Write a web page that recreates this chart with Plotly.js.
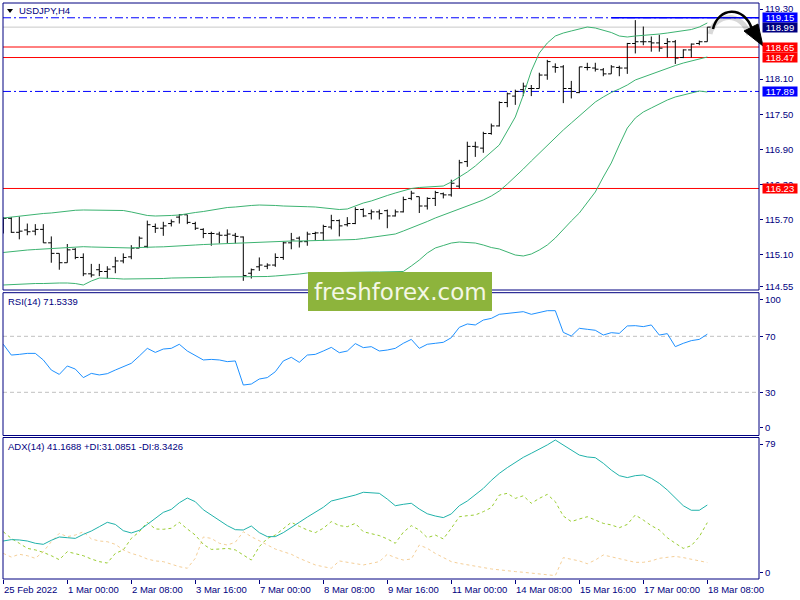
<!DOCTYPE html>
<html><head><meta charset="utf-8">
<script src="https://cdn.plot.ly/plotly-3.0.1.min.js"></script>
<style>html,body{margin:0;padding:0;background:#fff}#chart{width:800px;height:600px}</style>
</head><body><div id="chart"></div>
<script>
// ---------- DATA ----------
const symbolTitle = 'USDJPY,H4';
const tickLabels = ['25 Feb 2022','1 Mar 00:00','2 Mar 08:00','3 Mar 16:00','7 Mar 00:00','8 Mar 08:00','9 Mar 16:00','11 Mar 00:00','14 Mar 08:00','15 Mar 16:00','17 Mar 00:00','18 Mar 08:00'];
const tickBars = [0,8,16,24,32,40,48,56,64,72,80,88];

const open = [
115.62,115.72,115.48,115.52,115.50,115.53,115.30,115.12,114.96,115.19,
115.05,114.77,114.84,114.81,114.89,114.99,115.06,115.21,115.24,115.58,
115.55,115.63,115.74,115.78,115.63,115.53,115.46,115.45,115.43,115.43,
115.40,114.78,114.89,114.90,114.92,115.05,115.30,115.38,115.32,115.46,
115.47,115.57,115.68,115.61,115.63,115.87,115.80,115.83,115.85,115.76,
115.83,116.06,116.09,115.93,116.06,116.14,116.12,116.27,116.69,116.95,
116.92,117.17,117.30,117.70,117.81,117.92,117.94,117.94,118.17,118.31,
118.31,117.94,117.87,118.30,118.29,118.26,118.19,118.30,118.29,118.71,
118.74,118.74,118.72,118.71,118.74,118.47,118.60,118.71,118.74];
const high = [
115.74,115.74,115.75,115.63,115.62,115.62,115.41,115.12,115.28,115.21,
115.12,114.94,114.94,114.90,115.06,115.12,115.26,115.41,115.68,115.63,
115.66,115.70,115.79,115.78,115.66,115.55,115.49,115.49,115.53,115.47,
115.41,114.86,115.05,114.95,115.12,115.32,115.47,115.41,115.49,115.49,
115.61,115.78,115.70,115.74,115.91,115.89,115.87,115.87,115.87,115.87,
116.09,116.19,116.09,116.08,116.19,116.16,116.38,116.72,117.03,117.03,
117.20,117.34,117.72,117.87,117.92,118.04,118.00,118.21,118.43,118.37,
118.34,118.07,118.31,118.38,118.38,118.29,118.34,118.33,118.72,119.11,
119.00,118.83,118.86,118.80,118.77,118.61,118.71,118.76,118.99];
const low = [
115.46,115.47,115.36,115.43,115.43,115.30,114.96,114.84,114.96,115.02,
114.73,114.71,114.73,114.69,114.78,114.95,115.02,115.21,115.21,115.47,
115.42,115.58,115.63,115.62,115.52,115.38,115.25,115.29,115.29,115.29,
114.65,114.69,114.82,114.85,114.89,115.01,115.19,115.22,115.25,115.34,
115.34,115.53,115.41,115.58,115.62,115.74,115.70,115.70,115.55,115.75,
115.82,116.03,115.81,115.87,115.93,116.06,116.09,116.23,116.60,116.77,
116.84,117.15,117.29,117.62,117.66,117.81,117.81,117.94,118.09,118.21,
117.69,117.77,117.86,118.25,118.23,118.15,118.19,118.15,118.19,118.54,
118.68,118.57,118.57,118.47,118.36,118.46,118.47,118.68,118.74];
const close = [
115.72,115.48,115.50,115.49,115.53,115.30,115.12,114.96,115.18,115.05,
114.77,114.75,114.81,114.85,114.99,115.05,115.21,115.38,115.61,115.55,
115.59,115.66,115.78,115.65,115.55,115.46,115.46,115.43,115.45,115.41,
114.74,114.84,114.92,114.92,115.05,115.30,115.35,115.32,115.45,115.47,
115.58,115.68,115.59,115.63,115.87,115.76,115.83,115.80,115.76,115.83,
116.04,116.15,115.93,116.06,116.16,116.12,116.32,116.67,116.95,116.94,
117.17,117.30,117.70,117.85,117.89,117.98,117.94,118.17,118.40,118.30,
117.94,117.89,118.31,118.30,118.27,118.19,118.31,118.29,118.71,118.74,
118.74,118.72,118.63,118.74,118.46,118.60,118.70,118.74,118.99];

const bbUpper = [
115.725,115.742,115.759,115.768,115.785,115.802,115.811,115.828,115.845,115.857,
115.862,115.862,115.862,115.862,115.862,115.853,115.828,115.793,115.768,115.759,
115.759,115.768,115.776,115.802,115.819,115.836,115.862,115.879,115.904,115.913,
115.930,115.939,115.947,115.947,115.939,115.930,115.930,115.922,115.918,115.913,
115.896,115.879,115.870,115.879,115.930,115.981,116.016,116.067,116.110,116.152,
116.187,116.229,116.247,116.255,116.255,116.272,116.341,116.426,116.512,116.614,
116.734,116.854,116.974,117.213,117.453,117.828,118.239,118.547,118.718,118.838,
118.889,118.924,118.958,118.992,118.975,118.941,118.898,118.838,118.821,118.838,
118.847,118.855,118.872,118.889,118.907,118.924,118.949,118.992,119.061];
const bbMiddle = [
115.135,115.152,115.164,115.177,115.186,115.195,115.203,115.212,115.220,115.229,
115.234,115.229,115.225,115.220,115.215,115.212,115.212,115.220,115.229,115.229,
115.232,115.237,115.246,115.254,115.263,115.271,115.277,115.280,115.289,115.297,
115.302,115.306,115.306,115.314,115.323,115.326,115.331,115.331,115.336,115.340,
115.343,115.345,115.348,115.348,115.357,115.374,115.391,115.408,115.425,115.451,
115.502,115.554,115.605,115.665,115.725,115.776,115.827,115.879,115.930,115.981,
116.033,116.101,116.187,116.306,116.426,116.563,116.700,116.837,116.974,117.102,
117.230,117.350,117.470,117.589,117.709,117.795,117.872,117.932,118.000,118.086,
118.137,118.188,118.240,118.291,118.333,118.376,118.411,118.436,118.479];
const bbLower = [
114.579,114.587,114.596,114.596,114.604,114.604,114.613,114.613,114.613,114.604,
114.579,114.647,114.698,114.698,114.690,114.681,114.681,114.681,114.690,114.690,
114.690,114.698,114.698,114.698,114.698,114.707,114.710,114.716,114.716,114.716,
114.716,114.716,114.716,114.724,114.733,114.741,114.750,114.767,114.784,114.787,
114.793,114.796,114.801,114.801,114.801,114.801,114.801,114.801,114.801,114.801,
114.810,114.904,115.006,115.126,115.212,115.254,115.297,115.314,115.306,115.297,
115.263,115.220,115.195,115.143,115.092,115.075,115.109,115.177,115.263,115.383,
115.537,115.674,115.810,115.981,116.170,116.426,116.666,116.974,117.264,117.435,
117.538,117.607,117.675,117.743,117.795,117.829,117.863,117.897,117.880];

const rsi = [
64.3,56.6,57.1,57.8,57.8,53.1,45.9,42.8,48.8,46.6,
40.5,43.5,42.4,43.3,45.9,48.3,50.7,55.9,61.4,58.5,
60.9,61.4,64.3,59.5,56.2,53.1,53.5,53.1,51.9,52.4,
35.2,35.9,39.5,40.5,44.7,52.4,55.0,51.4,56.6,57.1,
59.5,62.1,58.3,59.5,64.8,61.9,62.6,59.5,60.2,61.4,
65.0,67.8,61.4,64.3,65.0,65.7,69.0,76.4,78.8,78.1,
81.6,82.8,85.7,86.4,87.1,87.6,85.7,87.1,88.3,88.3,
72.8,70.2,75.7,75.0,74.3,70.9,72.6,72.1,77.4,77.6,
76.9,78.1,70.9,71.9,62.6,65.0,66.9,67.8,71.5];
const rsiLevels = [70, 30];

const adx = [
20.6,21.4,21.2,20.6,19.3,18.7,21.0,22.9,22.5,22.1,
24.4,26.3,28.8,31.3,30.1,26.5,25.2,26.7,30.1,33.6,
37.0,38.7,42.5,45.2,43.1,38.5,35.5,32.1,29.4,27.1,
26.9,29.2,25.4,23.1,23.1,25.4,28.6,31.3,34.3,37.0,
39.9,43.5,44.6,45.8,46.9,48.5,48.3,47.9,44.6,40.8,
41.6,42.2,38.9,36.2,34.9,34.0,36.1,40.8,43.5,47.3,
50.7,55.3,59.3,62.6,65.6,68.5,70.8,73.1,75.6,78.4,
75.6,72.7,69.8,68.7,68.3,65.1,61.2,58.0,56.9,58.0,
58.4,56.5,53.6,49.8,45.0,40.8,38.2,38.2,41.2];
const plusDI = [
25.9,22.1,19.3,16.4,15.5,14.1,12.2,9.9,14.5,13.4,
12.2,10.3,8.8,8.0,13.5,15.5,22.1,25.9,31.3,27.5,
27.3,27.9,31.3,27.5,24.0,18.7,15.8,16.0,16.4,15.5,
12.6,9.7,17.4,22.1,24.0,27.9,31.3,29.0,26.9,25.4,
27.9,31.7,29.4,28.8,30.7,25.9,24.8,23.7,21.8,19.3,
25.6,29.4,26.9,22.5,24.0,21.8,27.9,34.5,35.1,35.5,
37.4,39.7,46.9,47.9,45.0,46.5,42.2,45.0,47.3,43.1,
34.9,31.7,33.2,34.5,32.6,30.7,29.8,28.2,30.1,35.5,
32.6,29.4,26.9,22.5,19.3,16.4,17.9,23.1,31.1];
const minusDI = [
13.5,11.4,13.0,12.2,10.7,14.5,20.2,25.0,23.1,24.0,
25.9,21.8,20.6,20.2,18.7,15.5,13.5,12.2,10.3,9.2,
8.8,7.2,5.9,5.0,10.7,22.9,22.1,19.3,18.3,19.9,
25.9,23.1,20.6,18.3,16.0,14.5,13.0,10.7,8.8,6.9,
5.9,5.0,9.2,8.4,7.6,6.9,7.8,8.8,13.0,11.1,
9.7,10.3,18.3,16.4,13.5,11.1,8.8,7.8,6.9,5.9,
5.4,4.6,4.0,3.4,3.1,2.7,2.3,1.9,1.5,0.8,
11.1,10.3,9.2,7.6,9.7,12.6,11.6,10.3,9.2,8.4,
8.4,9.2,10.7,11.4,11.8,11.1,10.1,9.2,8.3];

const priceTicks = [119.30,118.10,117.50,116.90,116.30,115.70,115.10,114.55];
const levelValues = [119.15, 118.99, 118.65, 118.47, 117.89, 116.23];
const levelKinds  = ['blueDash','gray','red','red','blueDash','red'];
const levelBoxColors = ['#0000ff','#000080','#ff0000','#ff0000','#0000ff','#ff0000'];
const resistanceLevel = 119.15;
const resistanceStartBar = 76;
const rsiText = 'RSI(14) 71.5339';
const adxText = 'ADX(14) 41.1688 +DI:31.0851 -DI:8.3426';
const logoText = 'freshforex.com';

// ---------- LAYOUT HELPERS ----------
const PL = 3, PR = 759, PT = 3, PB = 579;
const px = x => (x - PL) / (PR - PL);
const py = y => (PB - y) / (PB - PT);
const NAVY = '#000080';
const FONT = 'Liberation Sans, Arial, sans-serif';
const bars = open.map((_, i) => i);
const xr = [-0.0375, 94.4625];

const traces = [
  {type:'scatter', mode:'lines', x:bars, y:bbUpper, line:{color:'#3cb371', width:1}, xaxis:'x', yaxis:'y', hoverinfo:'skip'},
  {type:'scatter', mode:'lines', x:bars, y:bbMiddle, line:{color:'#3cb371', width:1}, xaxis:'x', yaxis:'y', hoverinfo:'skip'},
  {type:'scatter', mode:'lines', x:bars, y:bbLower, line:{color:'#3cb371', width:1}, xaxis:'x', yaxis:'y', hoverinfo:'skip'},
  {type:'ohlc', x:bars, open:open, high:high, low:low, close:close, tickwidth:0.4,
   increasing:{line:{color:'#000000', width:1}}, decreasing:{line:{color:'#000000', width:1}},
   xaxis:'x', yaxis:'y', hoverinfo:'skip'},
  {type:'scatter', mode:'lines', x:bars, y:rsi, line:{color:'#1e90ff', width:1}, xaxis:'x', yaxis:'y2', hoverinfo:'skip'},
  {type:'scatter', mode:'lines', x:bars, y:minusDI, line:{color:'#f5cf98', width:1, dash:'dot'}, xaxis:'x', yaxis:'y3', hoverinfo:'skip'},
  {type:'scatter', mode:'lines', x:bars, y:plusDI, line:{color:'#9acd32', width:1, dash:'dot'}, xaxis:'x', yaxis:'y3', hoverinfo:'skip'},
  {type:'scatter', mode:'lines', x:bars, y:adx, line:{color:'#20b2aa', width:1}, xaxis:'x', yaxis:'y3', hoverinfo:'skip'}
];

const shapes = [];
levelValues.forEach((v, k) => {
  const kind = levelKinds[k];
  const line = kind === 'red' ? {color:'#ff0000', width:1}
             : kind === 'gray' ? {color:'#c8c8c8', width:1}
             : {color:'#0000ff', width:1, dash:'8px,3px,2px,3px'};
  shapes.push({type:'line', xref:'paper', x0:0, x1:1, yref:'y', y0:v, y1:v, line:line, layer:'below'});
});
shapes.push({type:'line', xref:'x', x0:resistanceStartBar, x1:xr[1], yref:'y', y0:resistanceLevel, y1:resistanceLevel, line:{color:'#0000ff', width:1.5}, layer:'below'});
rsiLevels.forEach(v => shapes.push({type:'line', xref:'paper', x0:0, x1:1, yref:'y2', y0:v, y1:v, line:{color:'#c0c0c0', width:1, dash:'4px,3px'}, layer:'below'}));
['y','y2','y3'].forEach(a => shapes.push({type:'rect', xref:'paper', yref:a+' domain', x0:0, x1:1, y0:0, y1:1, line:{color:NAVY, width:1}, fillcolor:'rgba(0,0,0,0)'}));
// title triangle
shapes.push({type:'path', xref:'paper', yref:'paper', path:`M ${px(7)} ${py(9)} L ${px(13)} ${py(9)} L ${px(10)} ${py(13)} Z`, fillcolor:'#000', line:{width:0}});
// curved arrow (shadow + arrow)
const P = (x, y) => `${px(x)} ${py(y)}`;
shapes.push({type:'path', xref:'paper', yref:'paper', path:`M ${P(710,34)} C ${P(715,13)} ${P(742,11)} ${P(749,35)}`, line:{color:'rgba(0,0,0,0.15)', width:5}});
shapes.push({type:'path', xref:'paper', yref:'paper', path:`M ${P(713,29)} C ${P(718,7)} ${P(744,5)} ${P(752,29)}`, line:{color:'#000', width:2.5}});
shapes.push({type:'path', xref:'paper', yref:'paper', path:`M ${P(744,31)} L ${P(763,46)} L ${P(758,24)} Z`, fillcolor:'#000', line:{color:'#000', width:1}});
// logo box
shapes.push({type:'rect', xref:'paper', yref:'paper', x0:px(308), x1:px(492), y0:py(311), y1:py(272), fillcolor:'#8db43c', line:{width:0}, layer:'above'});

const annotations = [];
annotations.push({xref:'paper', yref:'paper', x:px(17), y:py(11), xanchor:'left', yanchor:'middle', text:symbolTitle, showarrow:false, font:{family:FONT, size:9.5, color:NAVY}});
annotations.push({xref:'paper', yref:'paper', x:px(6), y:py(301), xanchor:'left', yanchor:'middle', text:rsiText, showarrow:false, font:{family:FONT, size:9.5, color:NAVY}});
annotations.push({xref:'paper', yref:'paper', x:px(6), y:py(446), xanchor:'left', yanchor:'middle', text:adxText, showarrow:false, font:{family:FONT, size:9.5, color:NAVY}});
tickBars.forEach((b, k) => annotations.push({xref:'x', yref:'paper', x:b, y:py(589), xanchor:'left', yanchor:'middle', xshift:-1, text:tickLabels[k], showarrow:false, font:{family:FONT, size:9.5, color:NAVY}}));
levelValues.forEach((v, k) => annotations.push({xref:'paper', yref:'y', x:1, y:v, xanchor:'left', yanchor:'middle', xshift:3, text:v.toFixed(2), showarrow:false, bgcolor:levelBoxColors[k], width:34, height:9, borderpad:0, font:{family:FONT, size:9.5, color:'#ffffff'}}));
annotations.push({xref:'paper', yref:'paper', x:px(400), y:py(291.5), xanchor:'center', yanchor:'middle', text:logoText, showarrow:false, font:{family:'DejaVu Sans, sans-serif', size:23, color:'#f4f7e6'}});

const yCommon = {side:'right', anchor:'x', showgrid:false, zeroline:false, showline:false, ticks:'outside', ticklen:3, tickcolor:NAVY, tickfont:{family:FONT, size:9.5, color:NAVY}, fixedrange:true};

const layout = {
  width:800, height:600, margin:{l:PL, r:800-PR, t:PT, b:600-PB}, paper_bgcolor:'#fff', plot_bgcolor:'#fff', showlegend:false,
  xaxis:{domain:[0,1], range:xr, anchor:'y3', showgrid:false, zeroline:false, showline:false, ticks:'outside', ticklen:4, tickcolor:NAVY, tickmode:'array', tickvals:tickBars, showticklabels:false, rangeslider:{visible:false}, fixedrange:true},
  yaxis:Object.assign({}, yCommon, {domain:[py(290),1], range:[114.4933,119.4026], tickmode:'array', tickvals:priceTicks, ticktext:priceTicks.map(v=>v.toFixed(2))}),
  yaxis2:Object.assign({}, yCommon, {domain:[py(435.5),py(292.7)], range:[-0.857,101.14], tickmode:'array', tickvals:[96.4,70,30,4.7], ticktext:['100','70','30','0']}),
  yaxis3:Object.assign({}, yCommon, {domain:[0,py(437.5)], range:[-1.145,79.85], tickmode:'array', tickvals:[76.1,2.7], ticktext:['79','0']}),
  shapes:shapes, annotations:annotations
};
Plotly.newPlot('chart', traces, layout, {staticPlot:true, displayModeBar:false});
</script></body></html>
